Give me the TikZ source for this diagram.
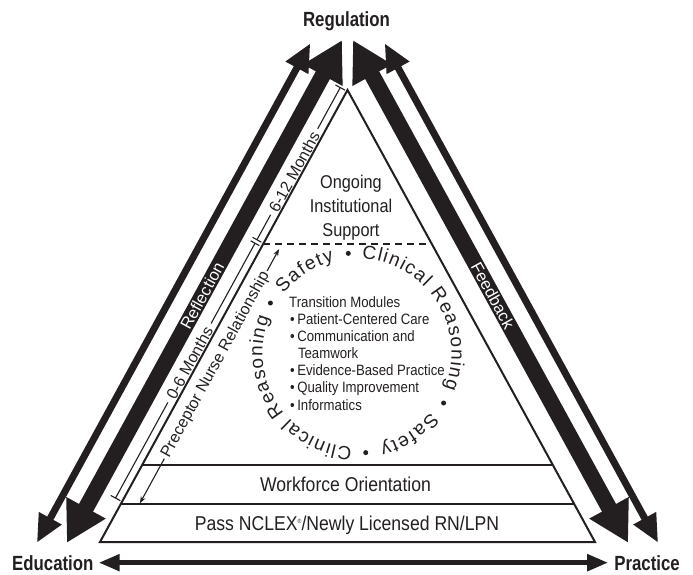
\documentclass[tikz,border=0pt]{standalone}
\usepackage{fontspec}
\setmainfont{Liberation Sans}
\newfontfamily\condf[FakeStretch=0.88]{Liberation Sans}
\newfontfamily\headf[FakeStretch=0.82]{Liberation Sans}
\usetikzlibrary{arrows.meta,decorations.text}
\newcommand\myfs[1]{\fontsize{#1}{#1}\selectfont}
\definecolor{ink}{RGB}{35,31,32}
\begin{document}
\begin{tikzpicture}[x=1pt,y=1pt,
  thickarrow/.style={draw=ink, line width=16pt, {Triangle[length=40pt,width=42pt]}-{Triangle[length=40pt,width=42pt]}},
  outerarrow/.style={draw=ink, line width=7pt, {Triangle[length=28pt,width=24pt]}-{Triangle[length=28pt,width=24pt]}},
  botarrow/.style={draw=ink, line width=5pt, {Triangle[length=21pt,width=16pt]}-{Triangle[length=21pt,width=16pt]}},
  tri/.style={draw=ink, line width=2pt},
  dimline/.style={draw=ink, line width=1.1pt},
  precarrow/.style={draw=ink, line width=1.1pt, -{Stealth[length=7pt,width=5pt]}},
  sidelbl/.style={font=\myfs{16}, text=ink, inner sep=0pt},
  armlbl/.style={font=\myfs{16.5}, text=white, inner sep=0pt},
  headlbl/.style={font={\headf\bfseries\myfs{20.5}}, text=ink, inner sep=0pt},
  bandlbl/.style={font={\condf\myfs{20}}, text=ink, inner sep=0pt},
  ongolbl/.style={font={\condf\myfs{18.5}}, text=ink, inner sep=0pt},
  listtxt/.style={font={\condf\myfs{15}}, text=ink, inner sep=0pt},
  circtxt/.style={decorate, decoration={text along path, text={|\myfs{19}|#1}, text color=ink, text align={fit to path}}},
]
\useasboundingbox (0,0) rectangle (693,574);

% corner labels
\node[headlbl, anchor=base] (reg) at (346.5,547) {Regulation};
\node[headlbl, anchor=base west] (edu) at (12,4) {Education};
\node[headlbl, anchor=base east] (pra) at (680,4) {Practice};
\draw[botarrow, shorten <=5pt, shorten >=6pt] (edu.east) -- (pra.west);

% main triangle
\coordinate (A) at (347.5,484);
\coordinate (BL) at (100,32);
\coordinate (BR) at (595,32);
\draw[tri, line join=miter] (A) -- (BL) -- (BR) -- cycle;
\draw[tri] (142.2,109) -- (552.8,109);
\draw[tri] (120.8,70) -- (574.2,70);
\draw[tri, dash pattern=on 7pt off 5pt] (263.2,330) -- (431.8,330);

% left side arrows and annotations
\begin{scope}[shift={(100,32)}, rotate=61.3]
  \draw[outerarrow] (-31,55) -- (538.5,55);
  \draw[thickarrow] (-16.7,28.7) -- (556.5,28.7);
  \node[armlbl, rotate=61.3] (refl) at (265,28.7) {Reflection};
  % 6-12 / 0-6 months dimension line
  \draw[dimline] (514,2) -- (514,13);
  \draw[dimline] (514,7.5) -- (467,7.5);
  \node[sidelbl, rotate=61.3] (m612) at (418,7.5) {6-12 Months};
  \draw[dimline] (369,7.5) -- (340.5,7.5);
  \draw[dimline] (340.5,2.5) -- (340.5,12.5);
  \draw[dimline] (336.5,2.5) -- (336.5,12.5);
  \draw[dimline] (336.5,7.5) -- (245,7.5);
  \node[sidelbl, rotate=61.3] (m06) at (200,7.5) {0-6 Months};
  \draw[dimline] (155,7.5) -- (46,7.5);
  \draw[dimline] (46,2) -- (46,13);
  % preceptor relationship
  \draw[precarrow] (104,-16.4) -- (53,-16.4);
  \node[sidelbl, rotate=61.3] (prec) at (211,-16.4) {Preceptor Nurse Relationship};
  \draw[precarrow] (318,-16.4) -- (343,-16.4);
\end{scope}

% right side arrows
\begin{scope}[shift={(595,32)}, rotate=118.7, yscale=-1]
  \draw[outerarrow] (-31,55) -- (538.5,55);
  \draw[thickarrow] (-16.7,28.7) -- (556.5,28.7);
  \node[armlbl, rotate=-61.3] (feed) at (265,28.7) {Feedback};
\end{scope}

% texts inside the triangle
\node[ongolbl, anchor=base] (ong1) at (351,385) {Ongoing};
\node[ongolbl, anchor=base] (ong2) at (351,361.5) {Institutional};
\node[ongolbl, anchor=base] (ong3) at (351,338) {Support};
\node[bandlbl, anchor=base] (work) at (345.5,82.3) {Workforce Orientation};
\node[bandlbl, anchor=base] (nclex) at (347,43.3) {Pass NCLEX\raisebox{7pt}{\myfs{6}®}/Newly Licensed RN/LPN};

% circular text
\coordinate (C) at (357,221);
\path[circtxt=Safety] (C) ++(141:94.5) arc[start angle=141, end angle=104, radius=94.5];
\path[circtxt=Clinical Reasoning] (C) ++(87:94.5) arc[start angle=87, end angle=-22, radius=94.5];
\path[circtxt=Safety] (C) ++(-39:94.5) arc[start angle=-39, end angle=-76, radius=94.5];
\path[circtxt=Clinical Reasoning] (C) ++(-93:94.5) arc[start angle=-93, end angle=-202, radius=94.5];
\fill[ink] (C) ++(150:100) circle[radius=2.5];
\fill[ink] (C) ++(95:100) circle[radius=2.5];
\fill[ink] (C) ++(-30:100) circle[radius=2.5];
\fill[ink] (C) ++(-85:100) circle[radius=2.5];

% module list
\node[listtxt, anchor=base west] (l0) at (289,267) {Transition Modules};
\node[listtxt, anchor=base west] (l1) at (290,250) {\textbullet\hspace{2.5pt}Patient-Centered Care};
\node[listtxt, anchor=base west] (l2) at (290,233) {\textbullet\hspace{2.5pt}Communication and};
\node[listtxt, anchor=base west] (l3) at (297.8,216) {Teamwork};
\node[listtxt, anchor=base west] (l4) at (290,199) {\textbullet\hspace{2.5pt}Evidence-Based Practice};
\node[listtxt, anchor=base west] (l5) at (290,182) {\textbullet\hspace{2.5pt}Quality Improvement};
\node[listtxt, anchor=base west] (l6) at (290,164) {\textbullet\hspace{2.5pt}Informatics};
\end{tikzpicture}
\end{document}
